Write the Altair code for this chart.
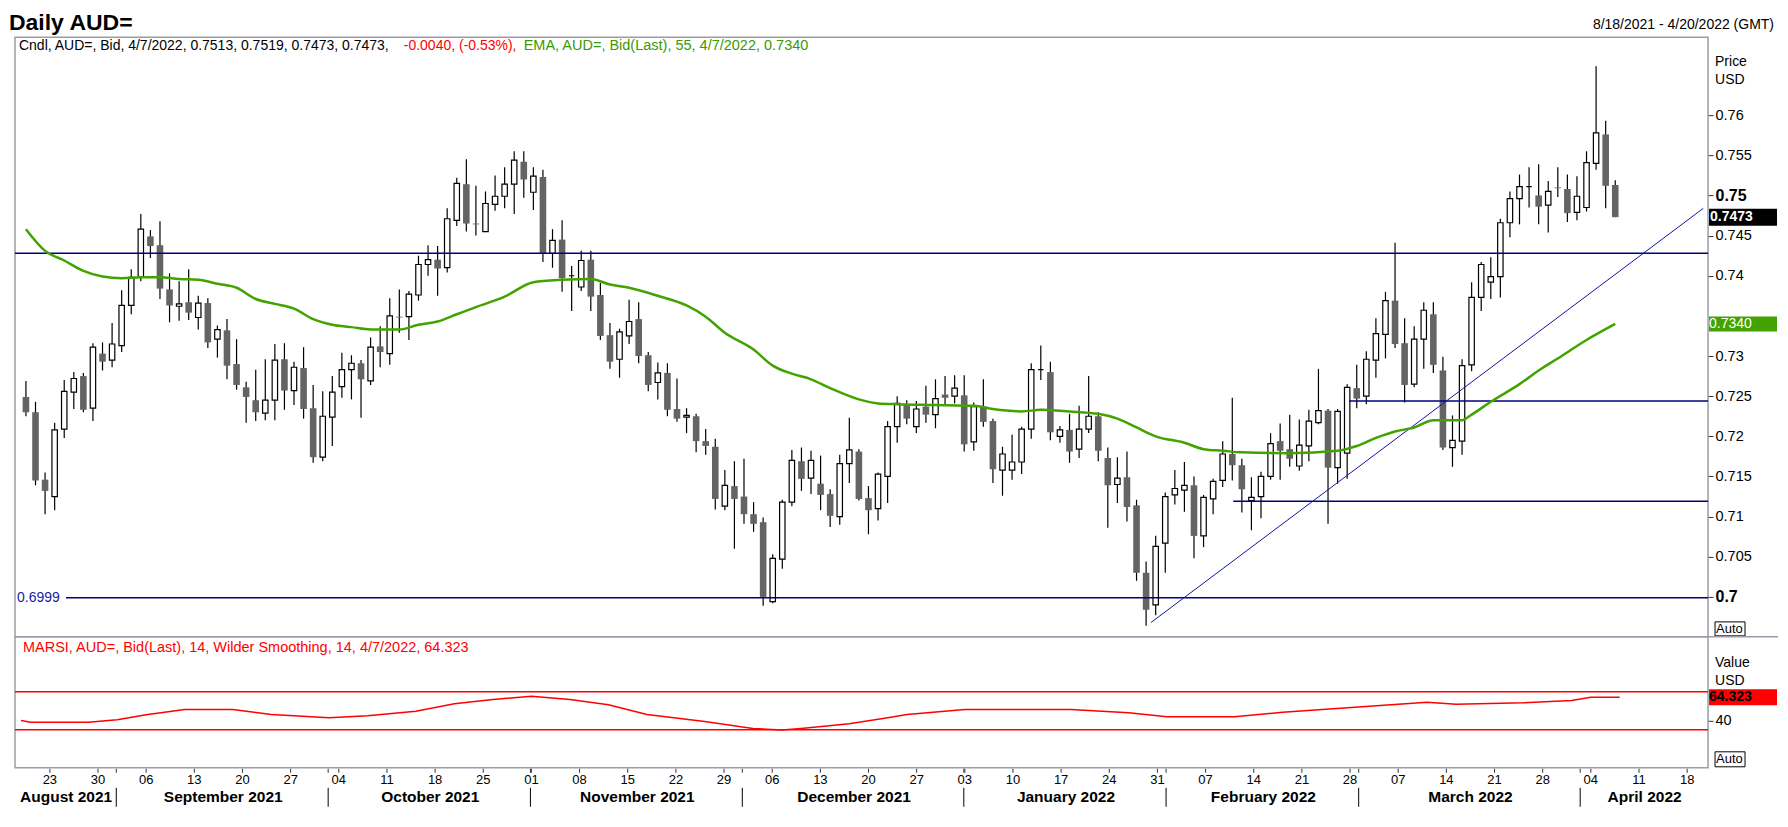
import altair as alt
import pandas as pd

FONT = "Liberation Sans"

# ---------------- data ----------------
opens = [0.7249,0.7230,0.7146,0.7125,0.7209,0.7255,0.7275,0.7235,0.7303,0.7295,
0.7313,0.7363,0.7398,0.7449,0.7438,0.7383,0.7362,0.7367,0.7348,0.7366,
0.7321,0.7332,0.7290,0.7261,0.7245,0.7229,0.7245,0.7296,0.7257,0.7285,
0.7235,0.7174,0.7224,0.7262,0.7283,0.7291,0.7269,0.7312,0.7303,0.7349,
0.7349,0.7376,0.7414,0.7420,0.7410,0.7469,0.7514,0.7465,0.7455,0.7489,
0.7499,0.7514,0.7542,0.7504,0.7523,0.7428,0.7445,0.7400,0.7386,0.7420,
0.7376,0.7326,0.7296,0.7325,0.7346,0.7301,0.7267,0.7279,0.7234,0.7224,
0.7225,0.7194,0.7187,0.7113,0.7138,0.7125,0.7103,0.7093,0.6994,0.7047,
0.7118,0.7169,0.7148,0.7141,0.7128,0.7100,0.7166,0.7181,0.7123,0.7110,
0.7150,0.7212,0.7239,0.7212,0.7237,0.7227,0.7252,0.7250,0.7251,0.7193,
0.7237,0.7219,0.7158,0.7158,0.7168,0.7209,0.7283,0.7280,0.7200,0.7208,
0.7184,0.7209,0.7225,0.7173,0.7140,0.7149,0.7114,0.7030,0.6990,0.7067,
0.7127,0.7133,0.7139,0.7076,0.7122,0.7145,0.7178,0.7164,0.7120,0.7125,
0.7150,0.7194,0.7184,0.7163,0.7188,0.7217,0.7232,0.7161,0.7179,0.7260,
0.7250,0.7295,0.7327,0.7369,0.7316,0.7265,0.7321,0.7352,0.7282,0.7186,
0.7194,0.7289,0.7373,0.7392,0.7399,0.7466,0.7496,0.7511,0.7500,0.7488,
0.7510,0.7508,0.7479,0.7485,0.7540,0.7576,0.7513]
highs = [0.7269,0.7243,0.7155,0.7217,0.7270,0.7280,0.7279,0.7316,0.7317,0.7341,
0.7382,0.7408,0.7477,0.7457,0.7468,0.7403,0.7393,0.7408,0.7375,0.7372,
0.7338,0.7346,0.7321,0.7268,0.7283,0.7296,0.7315,0.7316,0.7293,0.7311,
0.7264,0.7256,0.7275,0.7304,0.7301,0.7295,0.7323,0.7337,0.7372,0.7383,
0.7381,0.7425,0.7438,0.7437,0.7484,0.7522,0.7545,0.7512,0.7505,0.7525,
0.7535,0.7555,0.7555,0.7535,0.7532,0.7458,0.7469,0.7412,0.7431,0.7431,
0.7391,0.7341,0.7334,0.7370,0.7367,0.7305,0.7292,0.7291,0.7272,0.7235,
0.7228,0.7209,0.7197,0.7158,0.7169,0.7172,0.7118,0.7099,0.7053,0.7121,
0.7183,0.7186,0.7182,0.7176,0.7134,0.7177,0.7223,0.7184,0.7138,0.7155,
0.7219,0.7250,0.7245,0.7244,0.7263,0.7271,0.7275,0.7276,0.7276,0.7242,
0.7271,0.7222,0.7187,0.7202,0.7212,0.7291,0.7313,0.7293,0.7213,0.7228,
0.7238,0.7275,0.7230,0.7186,0.7174,0.7181,0.7121,0.7044,0.7076,0.7130,
0.7158,0.7168,0.7150,0.7127,0.7147,0.7194,0.7248,0.7172,0.7149,0.7156,
0.7204,0.7216,0.7227,0.7221,0.7233,0.7284,0.7234,0.7234,0.7265,0.7289,
0.7306,0.7347,0.7380,0.7441,0.7347,0.7337,0.7367,0.7367,0.7299,0.7226,
0.7296,0.7392,0.7417,0.7423,0.7471,0.7505,0.7526,0.7535,0.7539,0.7518,
0.7535,0.7526,0.7524,0.7555,0.7661,0.7593,0.7519]
lows = [0.7225,0.7139,0.7103,0.7108,0.7198,0.7234,0.7230,0.7219,0.7282,0.7286,
0.7305,0.7352,0.7393,0.7422,0.7371,0.7342,0.7344,0.7345,0.7333,0.7310,
0.7298,0.7271,0.7258,0.7217,0.7219,0.7220,0.7220,0.7233,0.7239,0.7222,
0.7167,0.7169,0.7188,0.7248,0.7246,0.7223,0.7264,0.7286,0.7289,0.7329,
0.7320,0.7369,0.7400,0.7375,0.7404,0.7462,0.7455,0.7450,0.7455,0.7481,
0.7484,0.7477,0.7497,0.7482,0.7417,0.7410,0.7380,0.7356,0.7381,0.7356,
0.7320,0.7284,0.7273,0.7315,0.7291,0.7256,0.7246,0.7225,0.7218,0.7204,
0.7180,0.7177,0.7109,0.7108,0.7060,0.7091,0.7081,0.6989,0.6992,0.7035,
0.7113,0.7132,0.7128,0.7108,0.7087,0.7090,0.7142,0.7120,0.7078,0.7095,
0.7117,0.7192,0.7215,0.7204,0.7217,0.7210,0.7240,0.7241,0.7181,0.7182,
0.7212,0.7142,0.7126,0.7146,0.7153,0.7197,0.7270,0.7195,0.7192,0.7167,
0.7173,0.7204,0.7169,0.7086,0.7117,0.7094,0.7020,0.6964,0.6977,0.7030,
0.7115,0.7106,0.7048,0.7062,0.7103,0.7137,0.7145,0.7105,0.7083,0.7098,
0.7146,0.7146,0.7162,0.7157,0.7169,0.7215,0.7091,0.7141,0.7147,0.7235,
0.7240,0.7273,0.7297,0.7310,0.7242,0.7261,0.7284,0.7279,0.7183,0.7162,
0.7177,0.7281,0.7356,0.7371,0.7373,0.7448,0.7464,0.7485,0.7464,0.7454,
0.7498,0.7467,0.7469,0.7480,0.7532,0.7484,0.7473]
closes = [0.7230,0.7145,0.7132,0.7208,0.7256,0.7272,0.7233,0.7311,0.7293,0.7315,
0.7363,0.7398,0.7458,0.7437,0.7384,0.7363,0.7365,0.7354,0.7366,0.7317,
0.7333,0.7288,0.7264,0.7249,0.7230,0.7245,0.7295,0.7257,0.7286,0.7234,
0.7174,0.7225,0.7255,0.7283,0.7291,0.7271,0.7311,0.7305,0.7350,0.7348,
0.7377,0.7414,0.7420,0.7409,0.7471,0.7515,0.7465,0.7464,0.7490,0.7499,
0.7514,0.7544,0.7520,0.7524,0.7428,0.7444,0.7397,0.7400,0.7419,0.7374,
0.7325,0.7293,0.7330,0.7343,0.7300,0.7264,0.7279,0.7233,0.7222,0.7226,
0.7194,0.7188,0.7122,0.7139,0.7122,0.7103,0.7091,0.7000,0.7048,0.7118,
0.7170,0.7147,0.7170,0.7127,0.7101,0.7166,0.7183,0.7122,0.7108,0.7153,
0.7212,0.7241,0.7222,0.7234,0.7227,0.7247,0.7248,0.7260,0.7190,0.7237,
0.7218,0.7159,0.7178,0.7168,0.7209,0.7283,0.7283,0.7205,0.7208,0.7181,
0.7209,0.7225,0.7182,0.7139,0.7148,0.7112,0.7030,0.6984,0.7063,0.7125,
0.7135,0.7139,0.7076,0.7124,0.7144,0.7178,0.7164,0.7134,0.7124,0.7150,
0.7191,0.7182,0.7172,0.7189,0.7219,0.7232,0.7161,0.7231,0.7261,0.7247,
0.7296,0.7328,0.7369,0.7315,0.7264,0.7321,0.7357,0.7289,0.7186,0.7195,
0.7288,0.7373,0.7414,0.7399,0.7466,0.7496,0.7511,0.7511,0.7486,0.7505,
0.7509,0.7478,0.7499,0.7541,0.7578,0.7512,0.7473]

ema_idx = [0,2,4,6,8,10,12,14,16,18,20,22,24,26,28,30,32,34,36,39,41,43,45,47,50,
           53,56,59,61,63,66,69,71,73,76,78,80,82,84,87,89,91,95,99,101,104,106,109,
           112,114,116,118,121,123,125,127,132,137,139,141,143,145,147,150,151,153,
           156,158,160,163,166]
ema_val = [0.7458,0.7431,0.7419,0.7406,0.7399,0.7397,0.7398,0.7398,0.7396,0.7395,
           0.7390,0.7385,0.7371,0.7365,0.7359,0.7346,0.7339,0.7336,0.7333,0.7333,
           0.7339,0.7343,0.7352,0.7361,0.7374,0.7392,0.7395,0.7396,0.7389,0.7385,
           0.7375,0.7363,0.7349,0.7329,0.7308,0.7288,0.7278,0.7271,0.7260,0.7246,
           0.7241,0.7240,0.7239,0.7238,0.7234,0.7231,0.7233,0.7231,0.7228,0.7222,
           0.7211,0.7200,0.7192,0.7184,0.7182,0.7180,0.7179,0.7182,0.7188,0.7198,
           0.7206,0.7211,0.7220,0.7220,0.7227,0.7243,0.7265,0.7282,0.7297,0.7320,
           0.7340]

rsi_idx = [0,1,7,10,13,17,22,26,32,36,41,45,49,53,57,61,65,71,76,79,81,86,90,92,98,
           109,115,119,126,131,140,146,149,156,161,163,166]
rsi_val = [39.8,38.1,38.1,40.5,45.8,51.4,51.4,46.1,42.6,44.7,49.6,57.4,61.9,65.4,61.9,
           56.3,46.1,38.8,31.4,29.7,31.4,36.3,42.6,46.1,51.4,51.4,47.9,43.7,43.7,48.6,
           54.9,59.1,57.0,58.4,60.9,64.4,64.323]
rsi_levels = [70, 30]

day_idx = list(range(3, 174, 5))
day_lab = ["23","30","06","13","20","27","04","11","18","25","01","08","15","22","29",
           "06","13","20","27","03","10","17","24","31","07","14","21","28","07","14",
           "21","28","04","11","18"]
month_start = [10, 32, 53, 75, 98, 119, 139, 162]
month_names = ["August 2021","September 2021","October 2021","November 2021",
               "December 2021","January 2022","February 2022","March 2022","April 2022"]

full_levels = [0.7428]
support_level = [0.6999]
partial_levels = [0.7244, 0.7119]
partial_start = [138.2, 126.1]
trend_idx = [117.5, 175.2]
trend_val = [0.6968, 0.7484]

# 0.735 and 60 sit under the value tags in the reference, so they are not drawn
price_ticks = [0.7, 0.705, 0.71, 0.715, 0.72, 0.725, 0.73, 0.74, 0.745,
               0.75, 0.755, 0.76]
rsi_ticks = [40]

# ---------------- layout ----------------
W, H1, H2 = 1694, 600, 131
XMIN, XMAX = -0.62, 175.17
NAVY = "#000080"
GREEN = "#42a300"
GRAY_BORDER = "#9c9ca8"

xs = alt.Scale(domain=[XMIN, XMAX], nice=False, zero=False)
ys = alt.Scale(domain=[0.69502, 0.76971], nice=False, zero=False)
rys = alt.Scale(domain=[-10, 127.9], nice=False, zero=False)

bold_test = "datum.value == 0.75 || datum.value == 0.7"
yaxis = alt.Axis(orient="right", values=price_ticks, format="~g", title=None,
                 grid=False, domain=False, tickSize=5, tickColor="#333333",
                 labelColor="black", labelFont=FONT, labelPadding=2,
                 labelOverlap=False, labelFlush=False,
                 labelFontSize={"condition": {"test": bold_test, "value": 16}, "value": 14.5},
                 labelFontWeight={"condition": {"test": bold_test, "value": "bold"}, "value": "normal"})
raxis = alt.Axis(orient="right", values=rsi_ticks, title=None, grid=False, domain=False,
                 tickSize=5, tickColor="#333333", labelColor="black", labelFont=FONT,
                 labelFontSize=14.5, labelPadding=2, labelFlush=False)

X = lambda f: alt.X(f, scale=xs, axis=None)
Y = lambda f: alt.Y(f, scale=ys, axis=yaxis)
RY = lambda f: alt.Y(f, scale=rys, axis=raxis)

df = pd.DataFrame({"i": list(range(len(opens))), "open": opens, "high": highs,
                   "low": lows, "close": closes})


def txt(s, x, y, **kw):
    params = dict(align="left", baseline="middle", font=FONT, fontSize=14, color="black")
    params.update(kw)
    return alt.Chart(pd.DataFrame({"t": [s]})).mark_text(**params).encode(
        x=alt.value(x), y=alt.value(y), text="t:N")


def boxed(x0, x1, y0, y1):
    return alt.Chart(pd.DataFrame({"t": ["Auto"]})).mark_rect(
        fill="white", stroke="black", strokeWidth=1).encode(
        x=alt.value(x0), x2=alt.value(x1), y=alt.value(y0), y2=alt.value(y1))


# ---------------- price pane ----------------
wick = alt.Chart(df).mark_rule(color="black", strokeWidth=1.2).encode(
    x=X("i:Q"), y=Y("low:Q"), y2="high:Q")
down = alt.Chart(df).transform_filter("datum.close < datum.open").mark_bar(
    size=6.6, fill="#646464").encode(x=X("i:Q"), y=Y("open:Q"), y2="close:Q")
up = alt.Chart(df).transform_filter("datum.close >= datum.open").mark_bar(
    size=5.4, fill="white", stroke="black", strokeWidth=1.2).encode(
    x=X("i:Q"), y=Y("open:Q"), y2="close:Q")

full_lines = alt.Chart(pd.DataFrame({"v": full_levels})).mark_rule(
    color=NAVY, strokeWidth=1.5).encode(y=Y("v:Q"))
sup_line = alt.Chart(pd.DataFrame({"v": support_level})).mark_rule(
    color=NAVY, strokeWidth=1.5).encode(x=alt.value(51), x2=alt.value(W), y=Y("v:Q"))
sup_label = alt.Chart(pd.DataFrame({"v": support_level})).mark_text(
    align="left", baseline="middle", font=FONT, fontSize=14, color="#1a1aa6").encode(
    x=alt.value(2), y=Y("v:Q"), text=alt.Text("v:Q", format=".4f"))
part_lines = alt.Chart(pd.DataFrame({"v": partial_levels, "s": partial_start})).mark_rule(
    color=NAVY, strokeWidth=1.5).encode(x=X("s:Q"), x2=alt.value(W), y=Y("v:Q"))
trend = alt.Chart(pd.DataFrame({"i": trend_idx, "v": trend_val})).mark_line(
    color="#1212a8", strokeWidth=1, clip=True).encode(x=X("i:Q"), y=Y("v:Q"))
ema = alt.Chart(pd.DataFrame({"i": ema_idx, "v": ema_val})).mark_line(
    color=GREEN, strokeWidth=2.5, interpolate="monotone").encode(x=X("i:Q"), y=Y("v:Q"))

last_close = pd.DataFrame({"v": [closes[-1]]})
last_ema = pd.DataFrame({"v": [ema_val[-1]]})
tag_close = alt.Chart(last_close).mark_rect(fill="black", yOffset=-8.5, y2Offset=8.5).encode(
    x=alt.value(W + 1), x2=alt.value(W + 69), y=Y("v:Q"), y2="v:Q")
tag_close_t = alt.Chart(last_close).mark_text(
    align="left", baseline="middle", font=FONT, fontSize=14, fontWeight="bold",
    color="white").encode(x=alt.value(W + 2), y=Y("v:Q"), text=alt.Text("v:Q", format=".4f"))
tag_ema = alt.Chart(last_ema).mark_rect(fill=GREEN, yOffset=-7.5, y2Offset=7.5).encode(
    x=alt.value(W + 1), x2=alt.value(W + 69), y=Y("v:Q"), y2="v:Q")
tag_ema_t = alt.Chart(last_ema).mark_text(
    align="left", baseline="middle", font=FONT, fontSize=14, color="white").encode(
    x=alt.value(W + 1), y=Y("v:Q"), text=alt.Text("v:Q", format=".4f"))

top = alt.layer(
    wick, down, up, full_lines, sup_line, part_lines, trend, ema, sup_label,
    tag_close, tag_close_t, tag_ema, tag_ema_t,
    txt("Daily AUD=", -6, -14, fontSize=23, fontWeight="bold"),
    txt("8/18/2021 - 4/20/2022 (GMT)", W + 66, -12, align="right"),
    txt("Cndl, AUD=, Bid, 4/7/2022, 0.7513, 0.7519, 0.7473, 0.7473,", 4, 9),
    txt("-0.0040, (-0.53%),", 389, 9, color="#ff0000"),
    txt("EMA, AUD=, Bid(Last),  55, 4/7/2022, 0.7340", 509, 9, color="#3a9a00",
        fontSize=14.5),
    txt("Price", W + 7, 25),
    txt("USD", W + 7, 43),
    boxed(W + 7, W + 37, H1 - 15, H1 - 1),
    txt("Auto", W + 8, H1 - 8, fontSize=13),
).properties(width=W, height=H1)

# ---------------- RSI pane ----------------
lev = alt.Chart(pd.DataFrame({"v": rsi_levels})).mark_rule(
    color="#ff0000", strokeWidth=1.5).encode(y=RY("v:Q"))
rsi = alt.Chart(pd.DataFrame({"i": rsi_idx, "v": rsi_val})).mark_line(
    color="#ff0000", strokeWidth=1.5).encode(x=X("i:Q"), y=RY("v:Q"))
last_rsi = pd.DataFrame({"v": [rsi_val[-1]]})
tag_rsi = alt.Chart(last_rsi).mark_rect(fill="#ff0000", yOffset=-8, y2Offset=8).encode(
    x=alt.value(W + 1), x2=alt.value(W + 69), y=RY("v:Q"), y2="v:Q")
tag_rsi_t = alt.Chart(last_rsi).mark_text(
    align="left", baseline="middle", font=FONT, fontSize=14, fontWeight="bold",
    color="black").encode(x=alt.value(W + 1), y=RY("v:Q"), text=alt.Text("v:Q", format=".3f"))

days = pd.DataFrame({"i": day_idx, "lab": day_lab})
day_ticks = alt.Chart(days).mark_rule(color="#333333", strokeWidth=1).encode(
    x=X("i:Q"), y=alt.value(H2 + 1), y2=alt.value(H2 + 5))
day_text = alt.Chart(days).mark_text(
    baseline="middle", font=FONT, fontSize=13, color="black").encode(
    x=X("i:Q"), y=alt.value(H2 + 12), text="lab:N")

bounds = [XMIN] + month_start + [XMAX]
months = pd.DataFrame({"c": [(bounds[k] + bounds[k + 1]) / 2 for k in range(len(month_names))],
                       "name": month_names})
seps = pd.DataFrame({"i": month_start})
sep_small = alt.Chart(seps).mark_rule(color="#333333", strokeWidth=1, xOffset=-1).encode(
    x=X("i:Q"), y=alt.value(H2 + 1), y2=alt.value(H2 + 5))
sep_long = alt.Chart(seps).mark_rule(color="black", strokeWidth=1, xOffset=-1).encode(
    x=X("i:Q"), y=alt.value(H2 + 20), y2=alt.value(H2 + 39))
month_text = alt.Chart(months).mark_text(
    baseline="middle", font=FONT, fontSize=15.5, fontWeight="bold", color="black").encode(
    x=X("c:Q"), y=alt.value(H2 + 29), text="name:N")

sep_ext = alt.Chart(pd.DataFrame({"t": [0]})).mark_rule(
    color=GRAY_BORDER, strokeWidth=1.5).encode(
    x=alt.value(W), x2=alt.value(W + 70), y=alt.value(0))

bottom = alt.layer(
    lev, rsi, tag_rsi, tag_rsi_t,
    txt("MARSI, AUD=, Bid(Last),  14, Wilder Smoothing, 14, 4/7/2022, 64.323", 8, 11,
        color="#ff0000", fontSize=14.5),
    txt("Value", W + 7, 26),
    txt("USD", W + 7, 44),
    boxed(W + 7, W + 37, H2 - 16, H2 - 1),
    txt("Auto", W + 8, H2 - 8.5, fontSize=13),
    day_ticks, day_text, sep_small, sep_long, month_text, sep_ext,
).properties(width=W, height=H2)

chart = alt.vconcat(top, bottom, spacing=0, bounds="flush").properties(
    padding={"left": 0, "right": 0, "top": 3, "bottom": 0}
).configure(font=FONT).configure_view(stroke=GRAY_BORDER, strokeWidth=1.5)

chart.save("out.html", embed_options={"renderer": "svg", "actions": False})
